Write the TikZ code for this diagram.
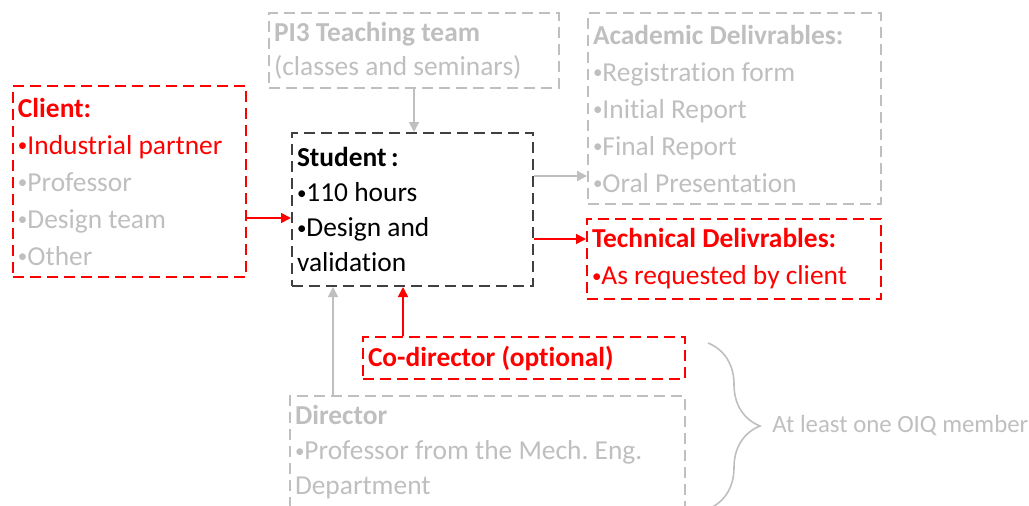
\documentclass[tikz,border=0pt]{standalone}
\usepackage{fontspec}
\setmainfont{Carlito}[Ligatures=NoCommon]
\usepackage{xcolor}
\usepackage{tikz}
\usetikzlibrary{arrows.meta,decorations.pathreplacing}
\definecolor{hot}{HTML}{FF0000}
\definecolor{faint}{HTML}{BFBFBF}
\definecolor{ink}{HTML}{404040}
\frenchspacing
% small list bullet
\newcommand{\blt}{{\fontsize{9.5}{9.5}\selectfont\raisebox{0.25ex}{\textbullet}}}

\begin{document}
\begin{tikzpicture}[x=0.5pt,y=-0.5pt,font=\fontsize{13.7}{18.5}\selectfont]
  \tikzstyle{box}=[dash pattern=on 5.5pt off 3pt,line width=1pt,anchor=north west,
    align=left,inner xsep=2.5pt,inner ysep=0pt,
    execute at begin node={\spaceskip=0pt\xspaceskip=0pt}]
  \tikzstyle{link}=[line width=0.8pt,-{Triangle[length=5pt,width=5pt]}]
  \useasboundingbox (0,0) rectangle (1029,505);
  \clip (0,0) rectangle (1029,505);
  % boxes
  \node[box,draw=faint,text=faint,text width=140pt,minimum height=37.5pt,
    font=\fontsize{13.7}{17}\selectfont] (team) at (268,12)
    {\textbf{PI3 Teaching team}\\(classes and seminars)};
  \node[box,draw=hot,text=faint,text width=111.5pt,minimum height=95.5pt] (client) at (12,85)
    {\textcolor{hot}{\textbf{Client:}}\\\textcolor{hot}{\blt Industrial partner}\\
     \blt Professor\\\blt Design team\\\blt Other};
  \node[box,draw=ink,text=black,text width=115.5pt,minimum height=76.5pt,
    font=\fontsize{13.7}{17.5}\selectfont] (student) at (291,132)
    {\textbf{Student\,:}\\\blt 110 hours\\\blt Design and\\validation};
  \node[box,draw=faint,text=faint,text width=141.5pt,minimum height=95.5pt] (acad) at (587,12)
    {\textbf{Academic Delivrables:}\\\blt Registration form\\\blt Initial Report\\
     \blt Final Report\\\blt Oral Presentation};
  \node[box,draw=hot,text=hot,text width=142pt,minimum height=40pt] (tech) at (586,218)
    {\textbf{Technical Delivrables:}\\\blt As requested by client};
  \node[box,draw=hot,text=hot,text width=156pt,minimum height=21pt] (codir) at (362,336)
    {\textbf{Co-director (optional)}};
  \node[box,draw=faint,text=faint,text width=192.5pt,minimum height=56pt,
    font=\fontsize{13.7}{17.5}\selectfont] (dir) at (289,395)
    {\textbf{Director}\\\blt Professor from the Mech. Eng.\\Department};
  % arrows
  \draw[link,faint] (team.south) -- (team.south |- student.north);
  \coordinate (in1) at ([yshift=-4.25pt]student.west);
  \draw[link,hot] (in1 -| client.east) -- (in1);
  \coordinate (out1) at ([yshift=16.75pt]student.east);
  \draw[link,faint] (out1) -- (out1 -| acad.west);
  \coordinate (out2) at ([yshift=-14.75pt]student.east);
  \draw[link,hot] (out2) -- (out2 -| tech.west);
  \coordinate (up1) at ([xshift=20.5pt]codir.north west);
  \draw[link,hot] (up1) -- (up1 |- student.south);
  \coordinate (up2) at ([xshift=22pt]dir.north west);
  \draw[link,faint] (up2) -- (up2 |- student.south);
  % OIQ brace
  \draw[faint,line width=0.8pt,decorate,decoration={brace,amplitude=26pt}]
    (708,343) -- (708,509);
  \node[anchor=west,text=faint,inner sep=0pt,font=\fontsize{12.4}{15}\selectfont] (oiq)
    at (772,426) {At least one OIQ member};
\end{tikzpicture}
\end{document}
